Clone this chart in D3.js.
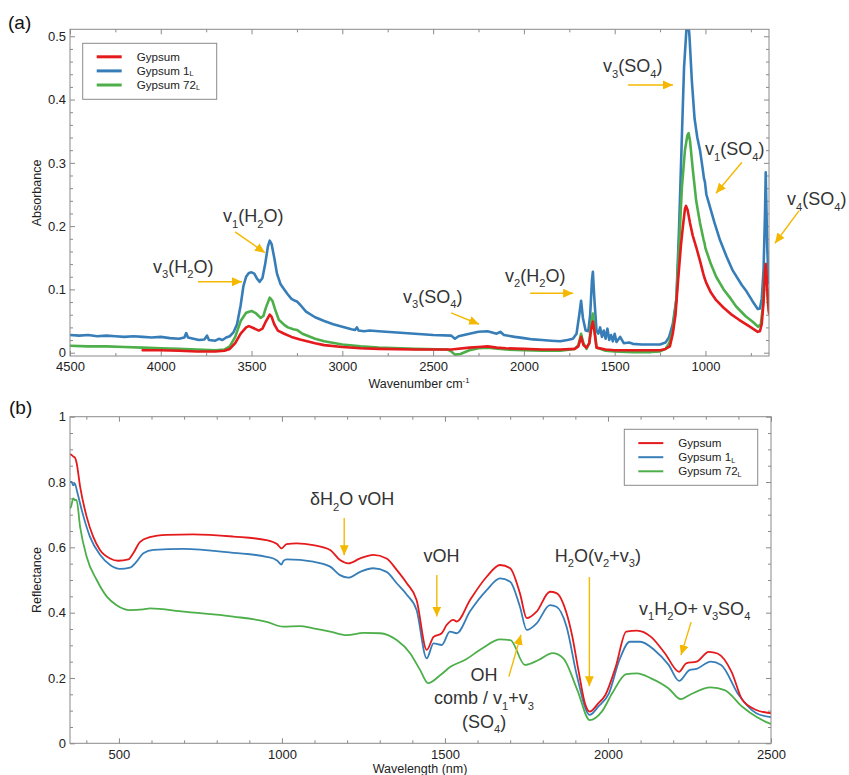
<!DOCTYPE html>
<html>
<head>
<meta charset="UTF-8">
<script src="https://d3js.org/d3.v7.min.js"></script>
<style>
body { margin: 0; background: #fff; }
svg { font-family: "Liberation Sans", Arial, Helvetica, sans-serif; }
.frame { fill: none; stroke: #8a8a8a; stroke-width: 1; }
.axis .domain { display: none; }
.axis .tick line { stroke: #8a8a8a; }
.axis .tick text { fill: #222; font-size: 13px; }
.spec { fill: none; stroke-linejoin: round; stroke-linecap: round; }
.note { fill: #333; font-size: 18px; }
.arrow { stroke: #f5b800; stroke-width: 1.4; fill: none; }
.title { fill: #222; font-size: 12.5px; }
.legend text { font-size: 11.6px; fill: #222; }
</style>
</head>
<body>
<svg width="849" height="775"></svg>
<script>
const seriesNames = [["Gypsum"], ["Gypsum 1", "L"], ["Gypsum 72", "L"]];
const colors = ["#e41a1c", "#377eb8", "#4daf4a"];

// (a) FTIR  [wavenumber cm-1, absorbance]
const ftirGypsum = [
  [4100,0.004],[4000,0.004],[3900,0.003],[3800,0.002],[3700,0.002],[3650,0.003],[3620,0.006],
  [3590,0.015],[3560,0.030],[3530,0.040],[3515,0.042],[3490,0.039],[3460,0.035],[3440,0.038],
  [3420,0.050],[3400,0.060],[3390,0.057],[3375,0.045],[3355,0.035],[3320,0.030],[3280,0.025],
  [3233,0.021],[3150,0.015],[3100,0.012],[3000,0.009],[2900,0.007],[2800,0.006],[2600,0.005],
  [2400,0.005],[2300,0.008],[2250,0.009],[2200,0.010],[2150,0.008],[2100,0.007],[2000,0.006],
  [1900,0.005],[1800,0.005],[1720,0.006],[1700,0.010],[1685,0.025],[1672,0.012],[1655,0.008],
  [1640,0.015],[1628,0.040],[1620,0.049],[1612,0.035],[1600,0.008],[1550,0.005],[1500,0.004],
  [1400,0.004],[1300,0.004],[1250,0.004],[1220,0.006],[1196,0.010],[1180,0.030],[1165,0.060],
  [1152,0.110],[1135,0.170],[1124,0.200],[1113,0.227],[1107,0.232],[1098,0.225],[1085,0.205],
  [1070,0.185],[1051,0.167],[1030,0.145],[1012,0.125],[1005,0.118],[995,0.110],[970,0.095],
  [941,0.083],[900,0.071],[860,0.061],[815,0.052],[760,0.042],[712,0.033],[700,0.034],
  [690,0.045],[680,0.080],[672,0.130],[668,0.140],[663,0.120],[657,0.090],[650,0.062]
];
const ftirGypsum1L = [
  [4500,0.028],[4450,0.027],[4400,0.028],[4350,0.026],[4300,0.027],[4250,0.026],[4200,0.025],
  [4150,0.026],[4100,0.025],[4050,0.024],[4000,0.025],[3950,0.023],[3900,0.022],[3870,0.024],
  [3860,0.031],[3850,0.024],[3820,0.022],[3790,0.020],[3760,0.021],[3745,0.027],[3735,0.020],
  [3700,0.019],[3680,0.022],[3660,0.020],[3640,0.024],[3620,0.026],[3600,0.032],[3580,0.045],
  [3560,0.075],[3545,0.105],[3530,0.120],[3515,0.126],[3500,0.127],[3485,0.125],[3470,0.117],
  [3455,0.112],[3440,0.118],[3425,0.140],[3410,0.168],[3400,0.177],[3390,0.172],[3375,0.150],
  [3360,0.125],[3340,0.108],[3320,0.100],[3300,0.092],[3280,0.085],[3260,0.082],[3250,0.081],
  [3230,0.075],[3200,0.065],[3150,0.056],[3100,0.050],[3050,0.045],[3000,0.041],[2950,0.037],
  [2930,0.036],[2920,0.040],[2910,0.035],[2880,0.034],[2850,0.035],[2800,0.034],[2700,0.032],
  [2600,0.030],[2500,0.028],[2400,0.027],[2380,0.022],[2360,0.026],[2300,0.030],[2250,0.033],
  [2200,0.034],[2150,0.030],[2130,0.033],[2110,0.028],[2050,0.025],[2000,0.023],[1950,0.021],
  [1900,0.020],[1850,0.019],[1800,0.018],[1760,0.020],[1730,0.022],[1710,0.030],[1695,0.060],
  [1685,0.082],[1675,0.055],[1660,0.035],[1645,0.034],[1635,0.060],[1625,0.115],[1620,0.128],
  [1613,0.090],[1600,0.035],[1590,0.030],[1580,0.040],[1570,0.025],[1560,0.035],[1550,0.022],
  [1540,0.038],[1530,0.020],[1520,0.028],[1510,0.018],[1500,0.030],[1490,0.017],[1470,0.025],
  [1450,0.015],[1420,0.016],[1400,0.014],[1350,0.013],[1300,0.013],[1250,0.013],[1220,0.016],
  [1200,0.025],[1180,0.045],[1160,0.085],[1145,0.200],[1130,0.340],[1118,0.450],[1105,0.510],
  [1097,0.530],[1088,0.500],[1075,0.430],[1060,0.370],[1045,0.340],[1030,0.320],[1015,0.290],
  [1008,0.275],[1003,0.270],[995,0.250],[980,0.235],[950,0.205],[920,0.178],[884,0.152],
  [850,0.130],[800,0.107],[774,0.097],[740,0.081],[712,0.069],[700,0.070],[690,0.085],
  [680,0.130],[672,0.220],[668,0.285],[665,0.240],[660,0.170],[655,0.130],[650,0.110]
];
const ftirGypsum72L = [
  [4500,0.011],[4400,0.010],[4300,0.010],[4200,0.009],[4100,0.008],[4000,0.007],[3900,0.006],
  [3800,0.005],[3700,0.004],[3650,0.005],[3620,0.010],[3590,0.025],[3560,0.050],[3530,0.063],
  [3500,0.066],[3475,0.062],[3450,0.055],[3435,0.058],[3420,0.072],[3400,0.087],[3385,0.082],
  [3370,0.068],[3350,0.052],[3320,0.044],[3300,0.040],[3270,0.037],[3250,0.036],[3220,0.030],
  [3150,0.022],[3100,0.018],[3000,0.013],[2900,0.010],[2800,0.008],[2600,0.006],[2420,0.005],
  [2400,0.002],[2380,-0.003],[2350,-0.002],[2300,0.004],[2250,0.007],[2200,0.008],[2100,0.005],
  [2000,0.004],[1900,0.003],[1800,0.003],[1720,0.006],[1700,0.012],[1685,0.030],[1672,0.015],
  [1655,0.006],[1640,0.015],[1628,0.050],[1620,0.062],[1612,0.040],[1600,0.008],[1550,0.003],
  [1500,0.002],[1400,0.001],[1300,0.001],[1250,0.002],[1220,0.006],[1200,0.015],[1180,0.035],
  [1160,0.085],[1145,0.170],[1130,0.260],[1113,0.320],[1100,0.343],[1093,0.347],[1085,0.335],
  [1070,0.290],[1051,0.240],[1030,0.205],[1010,0.178],[1005,0.173],[1000,0.165],[970,0.140],
  [941,0.120],[900,0.100],[860,0.085],[831,0.073],[780,0.058],[740,0.049],[710,0.041],
  [695,0.045],[685,0.070],[675,0.120],[668,0.140],[663,0.110],[655,0.075],[650,0.065]
];

// (b) reflectance  [wavelength nm, reflectance]
const reflGypsum = [
  [350,0.885],[355,0.883],[360,0.878],[365,0.875],[370,0.860],[381,0.786],[401,0.694],[421,0.633],
  [442,0.592],[473,0.566],[498,0.559],[529,0.563],[544,0.582],[565,0.617],[595,0.631],[647,0.638],
  [728,0.640],[851,0.633],[953,0.622],[985,0.610],[999,0.597],[1014,0.610],[1045,0.612],[1096,0.607],
  [1148,0.592],[1178,0.561],[1204,0.551],[1240,0.566],[1280,0.577],[1321,0.566],[1352,0.531],
  [1383,0.490],[1413,0.439],[1444,0.286],[1465,0.326],[1490,0.337],[1505,0.362],[1526,0.378],
  [1536,0.373],[1577,0.439],[1628,0.510],[1669,0.546],[1700,0.536],[1730,0.459],[1751,0.383],
  [1781,0.403],[1822,0.464],[1842,0.460],[1873,0.398],[1890,0.330],[1910,0.220],[1930,0.120],
  [1944,0.097],[1970,0.122],[1992,0.148],[2024,0.235],[2056,0.342],[2089,0.345],[2132,0.326],
  [2175,0.275],[2218,0.219],[2240,0.245],[2272,0.250],[2309,0.280],[2336,0.275],[2379,0.219],
  [2412,0.133],[2455,0.102],[2500,0.092]
];
const reflGypsum1L = [
  [350,0.800],[355,0.800],[360,0.790],[365,0.795],[372,0.770],[386,0.714],[411,0.633],[442,0.577],
  [473,0.546],[503,0.534],[534,0.538],[554,0.556],[575,0.582],[606,0.592],[698,0.595],[851,0.583],
  [953,0.571],[985,0.560],[999,0.547],[1004,0.558],[1015,0.563],[1096,0.556],[1148,0.541],
  [1178,0.515],[1204,0.507],[1240,0.525],[1280,0.536],[1321,0.525],[1352,0.490],[1383,0.455],
  [1413,0.408],[1444,0.260],[1465,0.306],[1490,0.301],[1515,0.342],[1536,0.337],[1577,0.404],
  [1628,0.469],[1669,0.505],[1700,0.495],[1730,0.418],[1751,0.347],[1781,0.367],[1822,0.423],
  [1842,0.418],[1873,0.357],[1904,0.210],[1944,0.087],[1970,0.112],[2003,0.153],[2035,0.255],
  [2067,0.311],[2099,0.311],[2143,0.285],[2186,0.240],[2218,0.191],[2250,0.224],[2272,0.228],
  [2315,0.250],[2347,0.240],[2401,0.148],[2455,0.092],[2500,0.080]
];
const reflGypsum72L = [
  [350,0.720],[353,0.724],[360,0.750],[365,0.745],[370,0.745],[381,0.663],[401,0.571],[432,0.500],
  [463,0.449],[493,0.423],[534,0.408],[575,0.410],[595,0.413],[698,0.403],[851,0.388],[953,0.372],
  [1004,0.357],[1055,0.359],[1096,0.352],[1148,0.342],[1199,0.331],[1250,0.338],[1301,0.337],
  [1352,0.316],[1393,0.276],[1424,0.224],[1448,0.184],[1486,0.209],[1518,0.235],[1561,0.255],
  [1615,0.291],[1669,0.318],[1701,0.316],[1745,0.240],[1787,0.255],[1830,0.276],[1863,0.260],
  [1906,0.163],[1944,0.071],[1981,0.097],[2013,0.153],[2056,0.212],[2089,0.214],[2132,0.199],
  [2186,0.168],[2223,0.135],[2250,0.148],[2315,0.171],[2358,0.163],[2412,0.112],[2455,0.081],
  [2500,0.059]
];

const ftirTicksX = [4500, 4000, 3500, 3000, 2500, 2000, 1500, 1000];
const ftirTicksY = [0, 0.1, 0.2, 0.3, 0.4, 0.5];
const reflTicksX = [500, 1000, 1500, 2000, 2500];
const reflTicksY = [0, 0.2, 0.4, 0.6, 0.8, 1];

// annotations: text anchor and arrow in data units
const notesA = [
  {t: "v_3(H_2O)", x: 4043, y: 0.126, from: [3795, 0.112], to: [3553, 0.112]},
  {t: "v_1(H_2O)", x: 3657, y: 0.206, from: [3591, 0.191], to: [3426, 0.158]},
  {t: "v_3(SO_4)", x: 2666, y: 0.079, from: [2401, 0.063], to: [2247, 0.045]},
  {t: "v_2(H_2O)", x: 2104, y: 0.112, from: [1966, 0.094], to: [1729, 0.094]},
  {t: "v_3(SO_4)", x: 1564, y: 0.443, from: [1427, 0.423], to: [1179, 0.423]},
  {t: "v_1(SO_4)", x: 1002, y: 0.312, from: [799, 0.301], to: [942, 0.252]},
  {t: "v_4(SO_4)", x: 551, y: 0.233, from: [485, 0.224], to: [617, 0.173]}
];
const notesB = [
  {t: "δH_2O vOH", x: 1086, y: 0.729, from: [1191, 0.690], to: [1191, 0.576]},
  {t: "vOH", x: 1434, y: 0.556, from: [1475, 0.515], to: [1475, 0.388]},
  {t: "H_2O(v_2+v_3)", x: 1837, y: 0.555, from: [1943, 0.509], to: [1943, 0.175], thin: true},
  {t: "v_1H_2O+ v_3SO_4", x: 2095, y: 0.393, from: [2255, 0.371], to: [2224, 0.270]},
  {t: "OH", x: 1620, y: 0.192, mid: true},
  {t: "comb / v_1+v_3", x: 1620, y: 0.119, mid: true},
  {t: "(SO_4)", x: 1620, y: 0.048, mid: true, from: [1696, 0.204], to: [1733, 0.332]}
];

const svg = d3.select("svg");
svg.append("defs").append("marker")
  .attr("id", "head").attr("markerUnits", "userSpaceOnUse")
  .attr("markerWidth", 11).attr("markerHeight", 9)
  .attr("refX", 10).attr("refY", 4.5).attr("orient", "auto")
  .append("path").attr("d", "M0,0L10,4.5L0,9Z").attr("fill", "#f5b800");

// write "a_1" as subscript, "cm^{-1}" as superscript
function rich(sel, str, size, subShift = 0.3) {
  const parts = [];
  let i = 0, buf = "";
  while (i < str.length) {
    const c = str[i];
    if (c === "_" || c === "^") {
      if (buf) parts.push([buf, 0]); buf = "";
      let s;
      if (str[i + 1] === "{") { const j = str.indexOf("}", i); s = str.slice(i + 2, j); i = j + 1; }
      else { s = str[i + 1]; i += 2; }
      parts.push([s, c === "_" ? subShift : -0.42]);
    } else { buf += c; i++; }
  }
  if (buf) parts.push([buf, 0]);
  let off = 0;
  parts.forEach(([s, shift]) => {
    const ts = sel.append("tspan").text(s).attr("dy", (shift - off) * size);
    if (shift !== 0) ts.attr("font-size", size * 0.62);
    off = shift;
  });
}

function panel(opt) {
  const {x, y, series, width, majX, minX, majY, minY, fmtY, curve, clipId} = opt;
  const [x0, x1] = x.range(), [y0, y1] = y.range();
  const g = svg.append("g");

  svg.select("defs").append("clipPath").attr("id", clipId)
    .append("rect").attr("x", x0).attr("y", y1).attr("width", x1 - x0).attr("height", y0 - y1);

  const axes = [
    [() => d3.axisBottom(x), y0, majX, minX, true, "x"],
    [() => d3.axisTop(x), y1, majX, minX, false, "x"],
    [() => d3.axisLeft(y), x0, majY, minY, true, "y"],
    [() => d3.axisRight(y), x1, majY, minY, false, "y"]
  ];
  axes.forEach(([mk, pos, maj, min, lab, dir]) => {
    const tr = dir === "x" ? `translate(0,${pos})` : `translate(${pos},0)`;
    g.append("g").attr("class", "axis").attr("transform", tr)
      .call(mk().tickValues(min).tickSize(-3).tickFormat(""));
    g.append("g").attr("class", "axis").attr("transform", tr)
      .call(mk().tickValues(maj).tickSize(-5).tickPadding(dir === "x" ? 6 : 4)
        .tickFormat(lab ? (dir === "y" ? fmtY : d3.format("d")) : ""));
  });

  const line = d3.line().x(d => x(d[0])).y(d => y(d[1])).curve(curve);
  g.append("g").attr("clip-path", `url(#${clipId})`)
    .selectAll("path").data(series).join("path")
    .attr("class", "spec")
    .attr("stroke", d => d.color)
    .attr("stroke-width", width)
    .attr("d", d => line(d.values));

  g.append("rect").attr("class", "frame")
    .attr("x", x0).attr("y", y1).attr("width", x1 - x0).attr("height", y0 - y1);
  return g;
}

function legend(x0, y0, w, h, rowY, lineW) {
  const lg = svg.append("g").attr("class", "legend");
  lg.append("rect").attr("x", x0).attr("y", y0).attr("width", w).attr("height", h)
    .attr("fill", "#fff").attr("stroke", "#8a8a8a");
  seriesNames.forEach((n, i) => {
    const yy = y0 + rowY[i];
    lg.append("line").attr("x1", x0 + 14).attr("x2", x0 + 39).attr("y1", yy).attr("y2", yy)
      .attr("stroke", colors[i]).attr("stroke-width", lineW);
    const t = lg.append("text").attr("x", x0 + 54).attr("y", yy + 4.1);
    rich(t, n[1] ? n[0] + "_" + n[1] : n[0], 11.6, 0.12);
  });
}

function notes(list, x, y) {
  list.forEach(n => {
    const t = svg.append("text").attr("class", "note")
      .attr("x", x(n.x)).attr("y", y(n.y))
      .attr("text-anchor", n.mid ? "middle" : "start");
    rich(t, n.t, 18);
    if (n.from) {
      svg.append("line").attr("class", "arrow")
        .attr("stroke-width", n.thin ? 1.1 : 1.4)
        .attr("x1", x(n.from[0])).attr("y1", y(n.from[1]))
        .attr("x2", x(n.to[0])).attr("y2", y(n.to[1]))
        .attr("marker-end", "url(#head)");
    }
  });
}

// ---- (a) ----
const xA = d3.scaleLinear().domain([4500, 650]).range([70, 769]);
const yA = d3.scaleLinear().domain([-0.0052, 0.511]).range([356, 29.3]);
panel({
  x: xA, y: yA, width: 2.6, curve: d3.curveLinear, clipId: "clipA",
  series: [
    {color: colors[1], values: ftirGypsum1L},
    {color: colors[2], values: ftirGypsum72L},
    {color: colors[0], values: ftirGypsum}
  ],
  majX: ftirTicksX, minX: d3.range(4250, 650, -500),
  majY: ftirTicksY, minY: d3.range(0.02, 0.51, 0.02).filter(v => Math.abs(v * 10 - Math.round(v * 10)) > 0.01),
  fmtY: d => d === 0 ? "0" : d3.format(".1f")(d)
});
legend(82.7, 43.3, 134, 56, [13.5, 27.6, 41.7], 3);
notes(notesA, xA, yA);

// ---- (b) ----
const xB = d3.scaleLinear().domain([350, 2500]).range([70, 771]);
const yB = d3.scaleLinear().domain([0, 1]).range([743.3, 416.7]);
panel({
  x: xB, y: yB, width: 1.8, curve: d3.curveMonotoneX, clipId: "clipB",
  series: [
    {color: colors[2], values: reflGypsum72L},
    {color: colors[1], values: reflGypsum1L},
    {color: colors[0], values: reflGypsum}
  ],
  majX: reflTicksX, minX: d3.range(400, 2500, 100).filter(v => v % 500 !== 0),
  majY: reflTicksY, minY: d3.range(0.05, 1, 0.05).filter(v => Math.abs(v * 5 - Math.round(v * 5)) > 0.01),
  fmtY: d3.format("~g")
});
legend(624.3, 429.3, 133.4, 56, [13.8, 27.9, 42], 2);
notes(notesB, xB, yB);

// titles
svg.append("text").attr("x", 8).attr("y", 29).attr("font-size", 19).attr("fill", "#111").text("(a)");
svg.append("text").attr("x", 9).attr("y", 414).attr("font-size", 19).attr("fill", "#111").text("(b)");
svg.append("text").attr("class", "title").attr("text-anchor", "middle")
  .attr("transform", "translate(41,193) rotate(-90)").text("Absorbance");
svg.append("text").attr("class", "title").attr("text-anchor", "middle")
  .attr("transform", "translate(41,580) rotate(-90)").text("Reflectance");
const xt = svg.append("text").attr("class", "title").attr("text-anchor", "middle")
  .attr("x", 419).attr("y", 388);
rich(xt, "Wavenumber cm^{-1}", 12.5);
svg.append("text").attr("class", "title").attr("text-anchor", "middle")
  .attr("x", 420).attr("y", 773).text("Wavelength (nm)");
</script>
</body>
</html>
